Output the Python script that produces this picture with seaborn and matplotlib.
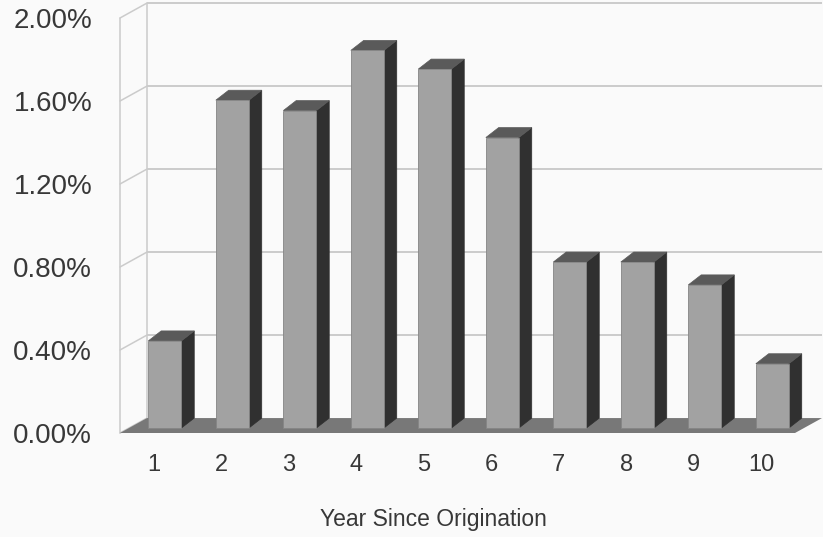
import matplotlib
matplotlib.use("Agg")
import matplotlib.pyplot as plt
from matplotlib.patches import Polygon
import seaborn as sns
import pandas as pd

# Annual default rate by year since origination
years = ["1", "2", "3", "4", "5", "6", "7", "8", "9", "10"]
rates = [0.42, 1.58, 1.53, 1.82, 1.73, 1.40, 0.80, 0.80, 0.69, 0.31]  # percent
y_ticks = [0.0, 0.4, 0.8, 1.2, 1.6, 2.0]
x_title = "Year Since Origination"

sns.set_theme(style="white")
plt.rcParams["font.family"] = ["Liberation Sans", "DejaVu Sans"]

BG = "#fafafa"
FACE = "#a2a2a2"
SIDE = "#303030"
TOP = "#5a5a5a"
FLOOR = "#787878"
GRID = "#cbcbcb"
TEXT = "#383838"

fig = plt.figure(figsize=(8.23, 5.37), dpi=100, facecolor=BG)
ax = fig.add_axes([120 / 823, 1 - 433 / 537, 675 / 823, 415 / 537])
ax.set_facecolor("none")

df = pd.DataFrame({"year": years, "rate": rates})
sns.barplot(data=df, x="year", y="rate", color=FACE, width=0.49,
            saturation=1, edgecolor="#858585", linewidth=0.6, ax=ax, zorder=4)

n = len(years)
ax.set_xlim(-0.5, n - 0.5)
ax.set_ylim(0, 2.0)

# depth of the chart box (back wall offset) in data units
DX, DY = 0.40, 0.072
# bar front-face offset into the box, and bar depth
BX, BY = 0.165, 0.024
DDX, DDY = 0.19, 0.048

# floor
ax.add_patch(Polygon([(-0.5, 0), (n - 0.5, 0), (n - 0.5 + DX, DY), (-0.5 + DX, DY)],
                     closed=True, facecolor=FLOOR, edgecolor="none",
                     zorder=1, clip_on=False))

# back wall gridlines and left wall
for v in y_ticks[1:]:
    ax.plot([-0.5 + DX, n - 0.5 + DX], [v + DY, v + DY], color=GRID, lw=1.4,
            zorder=0, clip_on=False, solid_capstyle="butt")
for v in y_ticks:
    ax.plot([-0.5, -0.5 + DX], [v, v + DY], color=GRID, lw=1.1,
            zorder=0, clip_on=False)
ax.plot([-0.5, -0.5], [0, 2.0], color=GRID, lw=1.1, zorder=0, clip_on=False)
ax.plot([-0.5 + DX, -0.5 + DX], [DY, 2.0 + DY], color=GRID, lw=1.1,
        zorder=0, clip_on=False)

# extrude each bar: shift front face, then add side and top faces
for p in ax.patches[:]:
    if not hasattr(p, "get_width"):
        continue
    x0, w, h = p.get_x(), p.get_width(), p.get_height()
    x0 += BX
    p.set_x(x0)
    p.set_y(BY)
    side = [(x0 + w, BY), (x0 + w, BY + h),
            (x0 + w + DDX, BY + h + DDY), (x0 + w + DDX, BY + DDY)]
    top = [(x0, BY + h), (x0 + w, BY + h),
           (x0 + w + DDX, BY + h + DDY), (x0 + DDX, BY + h + DDY)]
    ax.add_patch(Polygon(side, closed=True, facecolor=SIDE, edgecolor=SIDE,
                         lw=0.5, zorder=3, clip_on=False))
    ax.add_patch(Polygon(top, closed=True, facecolor=TOP, edgecolor=TOP,
                         lw=0.5, zorder=3, clip_on=False))

for s in ax.spines.values():
    s.set_visible(False)

ax.set_yticks(y_ticks)
ax.set_yticklabels([f"{v:.2f}%" for v in y_ticks])
ax.tick_params(axis="y", length=0, pad=20, labelsize=20, labelcolor=TEXT)
ax.set_xticks(range(n))
ax.set_xticklabels(years)
ax.tick_params(axis="x", length=0, pad=15, labelsize=17, labelcolor=TEXT)

ax.set_xlabel(x_title, fontsize=16.5, color=TEXT)
ax.xaxis.set_label_coords(313 / 675, -0.18)
ax.set_ylabel("")

fig.savefig("out.png", dpi=100, facecolor=BG)
